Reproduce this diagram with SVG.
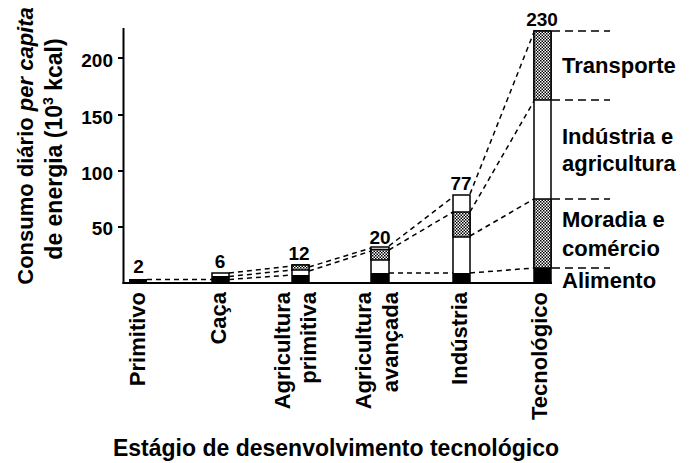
<svg xmlns="http://www.w3.org/2000/svg" width="699" height="463" viewBox="0 0 699 463">
<style>
text { font-family: "Liberation Sans", Arial, sans-serif; font-weight: bold; fill: #000; }
.tick { font-size: 19px; text-anchor: end; }
.val { font-size: 19px; text-anchor: middle; }
.cat { font-size: 22px; text-anchor: end; }
.leg { font-size: 22px; }
.axis { stroke: #000; stroke-width: 2; fill: none; }
.seg { stroke: #000; stroke-width: 1.5; }
.dash { stroke: #000; stroke-width: 1.5; stroke-dasharray: 5 4; fill: none; }
.dashr { stroke: #000; stroke-width: 1.5; stroke-dasharray: 8 5; fill: none; }
</style>
<defs>
<pattern id="stip" width="3" height="3" patternUnits="userSpaceOnUse">
<rect width="3" height="3" fill="#fff"/>
<rect x="0" y="0" width="1.5" height="1.5" fill="#000"/>
<rect x="1.5" y="1.5" width="1.5" height="1.5" fill="#000"/>
</pattern>
</defs>
<rect width="699" height="463" fill="#fff"/>

<g id="axes">
<line class="axis" x1="123.5" y1="28" x2="123.5" y2="284"/>
<line class="axis" x1="122.5" y1="283" x2="552" y2="283"/>
<line class="axis" x1="118" y1="58" x2="124" y2="58"/>
<line class="axis" x1="118" y1="115" x2="124" y2="115"/>
<line class="axis" x1="118" y1="171" x2="124" y2="171"/>
<line class="axis" x1="118" y1="227" x2="124" y2="227"/>
<text class="tick" x="113" y="67">200</text>
<text class="tick" x="113" y="124">150</text>
<text class="tick" x="113" y="180">100</text>
<text class="tick" x="113" y="235">50</text>
<text font-size="22" text-anchor="middle" transform="translate(33,146) rotate(-90)">Consumo diário <tspan font-style="italic">per capita</tspan></text>
<text font-size="23" text-anchor="middle" transform="translate(62,149) rotate(-90)">de energia (10<tspan font-size="14" dy="-9">3</tspan><tspan dy="9"> kcal)</tspan></text>
<text font-size="23" text-anchor="middle" x="336" y="456">Estágio de desenvolvimento tecnológico</text>
</g>

<g id="connectors">
<line class="dash" x1="147" y1="279.5" x2="212" y2="279.5"/>
<line class="dash" x1="229" y1="273" x2="292" y2="266"/>
<line class="dash" x1="229" y1="276.5" x2="292" y2="270"/>
<line class="dash" x1="229" y1="279.5" x2="292" y2="275"/>
<line class="dash" x1="309" y1="267" x2="371" y2="248"/>
<line class="dash" x1="309" y1="271" x2="371" y2="251"/>
<line class="dash" x1="389" y1="246" x2="453" y2="197"/>
<line class="dash" x1="389" y1="250" x2="453" y2="212"/>
<line class="dash" x1="389" y1="273" x2="453" y2="273"/>
<line class="dash" x1="470" y1="194" x2="534" y2="32"/>
<line class="dash" x1="470" y1="212" x2="534" y2="101"/>
<line class="dash" x1="470" y1="236" x2="534" y2="199"/>
<line class="dash" x1="470" y1="273" x2="534" y2="268"/>
<line class="dashr" x1="552" y1="31" x2="610" y2="31"/>
<line class="dashr" x1="552" y1="100" x2="610" y2="100"/>
<line class="dashr" x1="552" y1="199" x2="610" y2="199"/>
<line class="dashr" x1="552" y1="268" x2="610" y2="268"/>
</g>

<g id="primitivo">
<rect x="129" y="279" width="18" height="4" fill="#000"/>
<text class="val" x="138.5" y="273">2</text>
<text class="cat" transform="translate(145,292) rotate(-90)">Primitivo</text>
</g>

<g id="caca">
<rect class="seg" x="212" y="273" width="17" height="10" fill="#fff"/>
<rect x="212" y="276" width="17" height="7" fill="#000"/>
<text class="val" x="220" y="268">6</text>
<text class="cat" transform="translate(226,292) rotate(-90)">Caça</text>
</g>

<g id="agri-primitiva">
<rect class="seg" x="292" y="265" width="17" height="18" fill="#fff"/>
<rect class="seg" x="292" y="265" width="17" height="5" fill="url(#stip)"/>
<rect x="292" y="275" width="17" height="8" fill="#000"/>
<text class="val" x="299" y="260">12</text>
<text class="cat" transform="translate(290,292) rotate(-90)">Agricultura</text>
<text class="cat" transform="translate(316,292) rotate(-90)">primitiva</text>
</g>

<g id="agri-avancada">
<rect class="seg" x="371" y="247" width="18" height="36" fill="#fff"/>
<rect class="seg" x="371" y="249.5" width="18" height="10.5" fill="url(#stip)"/>
<rect x="371" y="273" width="18" height="10" fill="#000"/>
<text class="val" x="380" y="244">20</text>
<text class="cat" transform="translate(371,292) rotate(-90)">Agricultura</text>
<text class="cat" transform="translate(398,292) rotate(-90)">avançada</text>
</g>

<g id="industria">
<rect class="seg" x="453" y="195" width="17" height="88" fill="#fff"/>
<rect class="seg" x="453" y="212" width="17" height="25" fill="url(#stip)"/>
<rect x="453" y="273" width="17" height="10" fill="#000"/>
<text class="val" x="461" y="190">77</text>
<text class="cat" transform="translate(467,292) rotate(-90)">Indústria</text>
</g>

<g id="tecnologico">
<rect class="seg" x="534" y="31" width="17" height="252" fill="#fff"/>
<rect class="seg" x="534" y="31" width="17" height="69" fill="url(#stip)"/>
<rect class="seg" x="534" y="199" width="17" height="69" fill="url(#stip)"/>
<rect x="534" y="268" width="17" height="15" fill="#000"/>
<text class="val" x="542" y="26">230</text>
<text class="cat" transform="translate(547,292) rotate(-90)">Tecnológico</text>
</g>

<g id="legend">
<text class="leg" x="562" y="73">Transporte</text>
<text class="leg" x="562" y="144">Indústria e</text>
<text class="leg" x="562" y="171">agricultura</text>
<text class="leg" x="562" y="227">Moradia e</text>
<text class="leg" x="562" y="256">comércio</text>
<text class="leg" x="562" y="288">Alimento</text>
</g>
</svg>
